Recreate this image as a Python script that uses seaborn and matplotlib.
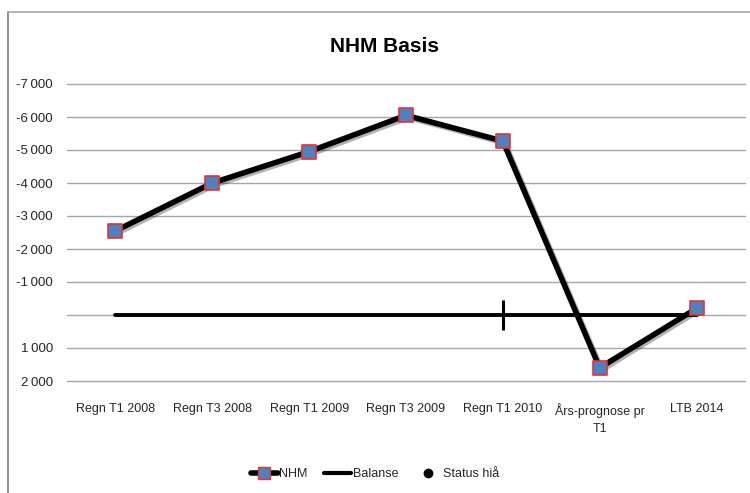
import seaborn as sns
import matplotlib.pyplot as plt
import matplotlib.patheffects as pe
from matplotlib.lines import Line2D
import pandas as pd

categories = ["Regn T1 2008", "Regn T3 2008", "Regn T1 2009", "Regn T3 2009",
              "Regn T1 2010", "Års-prognose pr\nT1", "LTB 2014"]
nhm = [-2550, -4000, -4950, -6050, -5270, 1600, -200]
balanse = [0, 0, 0, 0, 0, 0, 0]
status_idx = 4
status_val = 0
yticks = [-7000, -6000, -5000, -4000, -3000, -2000, -1000, 0, 1000, 2000]
ytick_labels = ["-7\u2009000", "-6\u2009000", "-5\u2009000", "-4\u2009000", "-3\u2009000",
                "-2\u2009000", "-1\u2009000", "", "1\u2009000", "2\u2009000"]

sns.set_style("white")
plt.rcParams['font.family'] = ['Liberation Sans Narrow', 'Liberation Sans', 'DejaVu Sans']

df = pd.DataFrame({"x": range(len(categories)), "NHM": nhm, "Balanse": balanse})

fig = plt.figure(figsize=(7.5, 4.93), dpi=100)
ax = fig.add_axes([67 / 750, 1 - 381 / 493, 678 / 750, 297 / 493])

for y in yticks:
    ax.axhline(y, color="#a6a6a6", lw=1, zorder=0, clip_on=False)

sns.lineplot(data=df, x="x", y="Balanse", ax=ax, color="black", lw=2.8, zorder=2)
sns.lineplot(data=df, x="x", y="NHM", ax=ax, color="black", lw=4, zorder=3,
             path_effects=[pe.SimpleLineShadow(offset=(1.5, -1.5), alpha=0.3), pe.Normal()])
sns.scatterplot(data=df, x="x", y="NHM", ax=ax, marker="s", s=100, color="#4f81bd",
                edgecolor="#e8313a", linewidth=1.2, zorder=4)
ax.plot([status_idx], [status_val], marker="|", markersize=22, mew=2.2,
        color="black", ls="none", zorder=4)

ax.set_xlim(-0.5, len(categories) - 0.5)
ax.set_ylim(2000, -7000)
ax.set_yticks(yticks)
ax.set_yticklabels(ytick_labels)
ax.set_xticks(range(len(categories)))
ax.set_xticklabels(categories, linespacing=1.5)
ax.tick_params(axis="both", labelsize=9.5, colors="#262626", length=0)
ax.tick_params(axis="x", labelsize=9, pad=16)
ax.tick_params(axis="y", pad=10)
ax.set_xlabel("")
ax.set_ylabel("")
for s in ax.spines.values():
    s.set_visible(False)

fig.text(385 / 750, 1 - 47 / 493, "NHM Basis", ha="center", va="center",
         fontsize=15, fontweight="bold", color="black")

handles = [
    Line2D([], [], color="black", lw=4, marker="s", markersize=9,
           markerfacecolor="#4f81bd", markeredgecolor="#e8313a"),
    Line2D([], [], color="black", lw=3),
    Line2D([], [], color="black", marker="o", markersize=6, ls="none"),
]
ax.legend(handles, ["NHM", "Balanse", "Status hiå"], loc="center",
          bbox_to_anchor=(0.5, 1 - 474 / 493), bbox_transform=fig.transFigure,
          ncol=3, frameon=False, fontsize=9, handlelength=2.2,
          handletextpad=0.1, columnspacing=1.3)

fig.add_artist(Line2D([7.5 / 750, 7.5 / 750], [0, 1 - 12 / 493], color="#808080", lw=1.2))
fig.add_artist(Line2D([7.5 / 750, 1], [1 - 12 / 493, 1 - 12 / 493], color="#a6a6a6", lw=1.2))

fig.savefig("out.png", dpi=100)
